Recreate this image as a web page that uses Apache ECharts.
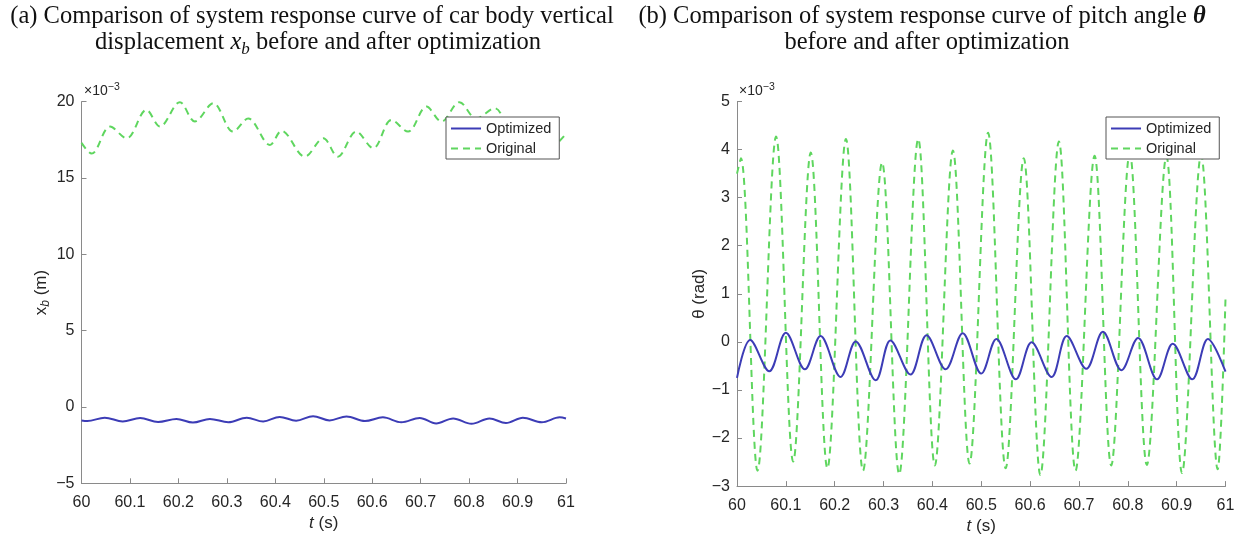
<!DOCTYPE html>
<html>
<head>
<meta charset="utf-8">
<script src="https://cdn.jsdelivr.net/npm/echarts@6/dist/echarts.min.js"></script>
<style>
html,body{margin:0;padding:0;background:#fff;}
#c{width:1250px;height:540px;}
</style>
</head>
<body>
<div id="c"></div>
<script>
// ---- data (values in units of 1e-3) ----
var xTicks = [60, 60.1, 60.2, 60.3, 60.4, 60.5, 60.6, 60.7, 60.8, 60.9, 61];
var xbTicks = [-5, 0, 5, 10, 15, 20];
var thTicks = [-3, -2, -1, 0, 1, 2, 3, 4, 5];

// (a) car body vertical displacement x_b, [t, value]
var xbOptimized = [[60.000,-0.88],[60.012,-0.92],[60.048,-0.70],[60.085,-0.95],[60.121,-0.72],[60.158,-0.98],[60.196,-0.78],[60.230,-1.02],[60.265,-0.78],[60.303,-1.00],[60.341,-0.70],[60.375,-0.95],[60.409,-0.65],[60.443,-0.90],[60.478,-0.60],[60.512,-0.88],[60.547,-0.62],[60.585,-0.92],[60.622,-0.68],[60.660,-1.00],[60.698,-0.72],[60.732,-1.08],[60.767,-0.75],[60.805,-1.10],[60.842,-0.75],[60.876,-1.05],[60.911,-0.70],[60.950,-1.00],[60.987,-0.68],[61.000,-0.75]];
var xbOriginal = [[60.000,17.30],[60.021,16.60],[60.059,18.37],[60.093,17.60],[60.134,19.46],[60.162,18.37],[60.203,19.97],[60.234,18.70],[60.272,19.90],[60.313,18.04],[60.344,18.90],[60.389,17.17],[60.413,18.09],[60.461,16.40],[60.499,17.60],[60.529,16.40],[60.567,18.04],[60.602,16.95],[60.640,18.80],[60.674,18.04],[60.712,19.68],[60.743,18.70],[60.780,19.97],[60.815,18.90],[60.853,19.57],[60.888,18.30],[60.925,18.80],[60.962,16.85],[61.000,17.90]];

// (b) pitch angle theta, [t, value]
var thOptimized = [[60.000,-0.75],[60.027,0.04],[60.066,-0.61],[60.100,0.19],[60.139,-0.57],[60.171,0.12],[60.212,-0.73],[60.243,0.01],[60.284,-0.80],[60.314,0.03],[60.355,-0.68],[60.388,0.14],[60.427,-0.57],[60.462,0.18],[60.500,-0.66],[60.531,0.06],[60.571,-0.78],[60.603,-0.01],[60.644,-0.73],[60.675,0.12],[60.715,-0.56],[60.749,0.21],[60.787,-0.59],[60.821,0.08],[60.860,-0.78],[60.892,-0.04],[60.932,-0.78],[60.964,0.06],[61.000,-0.62]];
var thOriginal = [[60.000,3.50],[60.008,3.82],[60.042,-2.68],[60.080,4.27],[60.115,-2.49],[60.151,3.94],[60.185,-2.63],[60.223,4.22],[60.258,-2.68],[60.297,3.73],[60.332,-2.75],[60.371,4.22],[60.405,-2.57],[60.442,3.98],[60.476,-2.53],[60.514,4.35],[60.550,-2.63],[60.587,3.82],[60.621,-2.77],[60.659,4.17],[60.693,-2.68],[60.732,3.87],[60.766,-2.57],[60.804,3.92],[60.839,-2.56],[60.879,3.86],[60.911,-2.73],[60.950,3.89],[60.984,-2.65],[61.000,0.90]];

var seriesNames = ['Optimized', 'Original'];

// ---- styles ----
var BLUE = '#3c3cb6';
var GREEN = '#5fd65f';
var AXIS = '#8a8a8a';
var TXT = '#262626';
var SANS = '"Liberation Sans", Arial, sans-serif';
var SERIF = '"Liberation Serif", "Times New Roman", serif';

function xAxisCfg(gi) {
  return {
    type: 'value', gridIndex: gi,
    min: xTicks[0], max: xTicks[xTicks.length - 1], interval: 0.1,
    axisLine: { show: true, onZero: false, lineStyle: { color: AXIS, width: 1 } },
    axisTick: { show: true, inside: true, length: 5, lineStyle: { color: AXIS } },
    axisLabel: { color: TXT, fontSize: 16, fontFamily: SANS, margin: 11,
      formatter: function (v) { return String(+v.toFixed(1)); } },
    splitLine: { show: false },
    name: '{i|t} (s)', nameLocation: 'middle', nameGap: 30,
    nameTextStyle: { color: TXT, fontSize: 17, fontFamily: SANS,
      rich: { i: { fontStyle: 'italic', fontSize: 17, fontFamily: SANS, color: TXT } } }
  };
}
function yAxisCfg(gi, ticks, name, gap, rich) {
  return {
    type: 'value', gridIndex: gi,
    min: ticks[0], max: ticks[ticks.length - 1], interval: ticks[1] - ticks[0],
    axisLine: { show: true, onZero: false, lineStyle: { color: AXIS, width: 1 } },
    axisTick: { show: true, inside: true, length: 5, lineStyle: { color: AXIS } },
    axisLabel: { color: TXT, fontSize: 16, fontFamily: SANS, margin: 7,
      formatter: function (v) { return v < 0 ? '\u2212' + Math.abs(v) : String(v); } },
    splitLine: { show: false },
    name: name, nameLocation: 'middle', nameGap: gap,
    nameTextStyle: { color: TXT, fontSize: 17, fontFamily: SANS, rich: rich }
  };
}
function lineSeries(name, gi, data, color, dashed) {
  return {
    name: name, type: 'line', xAxisIndex: gi, yAxisIndex: gi,
    data: data, smooth: 0.35, showSymbol: false, symbol: 'none', symbolSize: 0,
    lineStyle: { color: color, width: 2, type: dashed ? [7, 5] : 'solid' },
    itemStyle: { color: color }, z: dashed ? 2 : 3, animation: false
  };
}
function legendCfg(left) {
  return {
    data: seriesNames, orient: 'vertical', left: left, top: 117,
    itemWidth: 30, itemHeight: 14, itemGap: 5,
    padding: [4, 8, 3, 4],
    borderColor: '#555', borderWidth: 1, backgroundColor: '#fff',
    itemStyle: { opacity: 0, borderWidth: 0 },
    textStyle: { color: TXT, fontSize: 14.5, fontFamily: SANS },
    selectedMode: false
  };
}

var titleFont = '24.5px ' + SERIF;
var option = {
  backgroundColor: '#fff',
  animation: false,
  grid: [
    { left: 81.5, right: 684, top: 101.7, bottom: 56.7 },
    { left: 737, right: 24.5, top: 101.5, bottom: 50 }
  ],
  xAxis: [xAxisCfg(0), xAxisCfg(1)],
  yAxis: [
    yAxisCfg(0, xbTicks, '{i|x}{s|b} (m)', 30,
      { i: { fontSize: 17, fontFamily: SANS, color: TXT },
        s: { fontSize: 12, fontFamily: SANS, color: TXT, fontStyle: 'italic', padding: [8, 0, 0, 0] } }),
    yAxisCfg(1, thTicks, '\u03b8 (rad)', 28, {})
  ],
  legend: [legendCfg(446), legendCfg(1106)],
  series: [
    lineSeries(seriesNames[0], 0, xbOptimized, BLUE, false),
    lineSeries(seriesNames[1], 0, xbOriginal, GREEN, true),
    lineSeries(seriesNames[0], 1, thOptimized, BLUE, false),
    lineSeries(seriesNames[1], 1, thOriginal, GREEN, true)
  ],
  graphic: [
    { type: 'text', x: 312, y: 17, style: { text: '(a) Comparison of system response curve of car body vertical',
      font: titleFont, fill: '#111', textAlign: 'center', textVerticalAlign: 'middle' } },
    { type: 'text', x: 318, y: 43, style: { text: 'displacement {i|x}{s|b} before and after optimization',
      font: titleFont, fill: '#111', textAlign: 'center', textVerticalAlign: 'middle',
      rich: { i: { font: 'italic 24.5px ' + SERIF, fill: '#111' },
              s: { font: 'italic 17px ' + SERIF, fill: '#111', padding: [13, 0, 0, 0] } } } },
    { type: 'text', x: 922, y: 17, style: { text: '(b) Comparison of system response curve of pitch angle {t|\u03b8}',
      font: titleFont, fill: '#111', textAlign: 'center', textVerticalAlign: 'middle',
      rich: { t: { font: 'italic bold 24.5px ' + SERIF, fill: '#111' } } } },
    { type: 'text', x: 927, y: 43, style: { text: 'before and after optimization',
      font: titleFont, fill: '#111', textAlign: 'center', textVerticalAlign: 'middle' } },
    { type: 'text', x: 84, y: 91, style: { text: '\u00d710{p|\u22123}',
      font: '14px ' + SANS, fill: TXT, textVerticalAlign: 'middle',
      rich: { p: { font: '10.5px ' + SANS, fill: TXT, padding: [0, 0, 8, 0] } } } },
    { type: 'text', x: 739, y: 91, style: { text: '\u00d710{p|\u22123}',
      font: '14px ' + SANS, fill: TXT, textVerticalAlign: 'middle',
      rich: { p: { font: '10.5px ' + SANS, fill: TXT, padding: [0, 0, 8, 0] } } } }
  ]
};
var chart = echarts.init(document.getElementById('c'), null, { renderer: 'canvas' });
chart.setOption(option);
</script>
</body>
</html>
